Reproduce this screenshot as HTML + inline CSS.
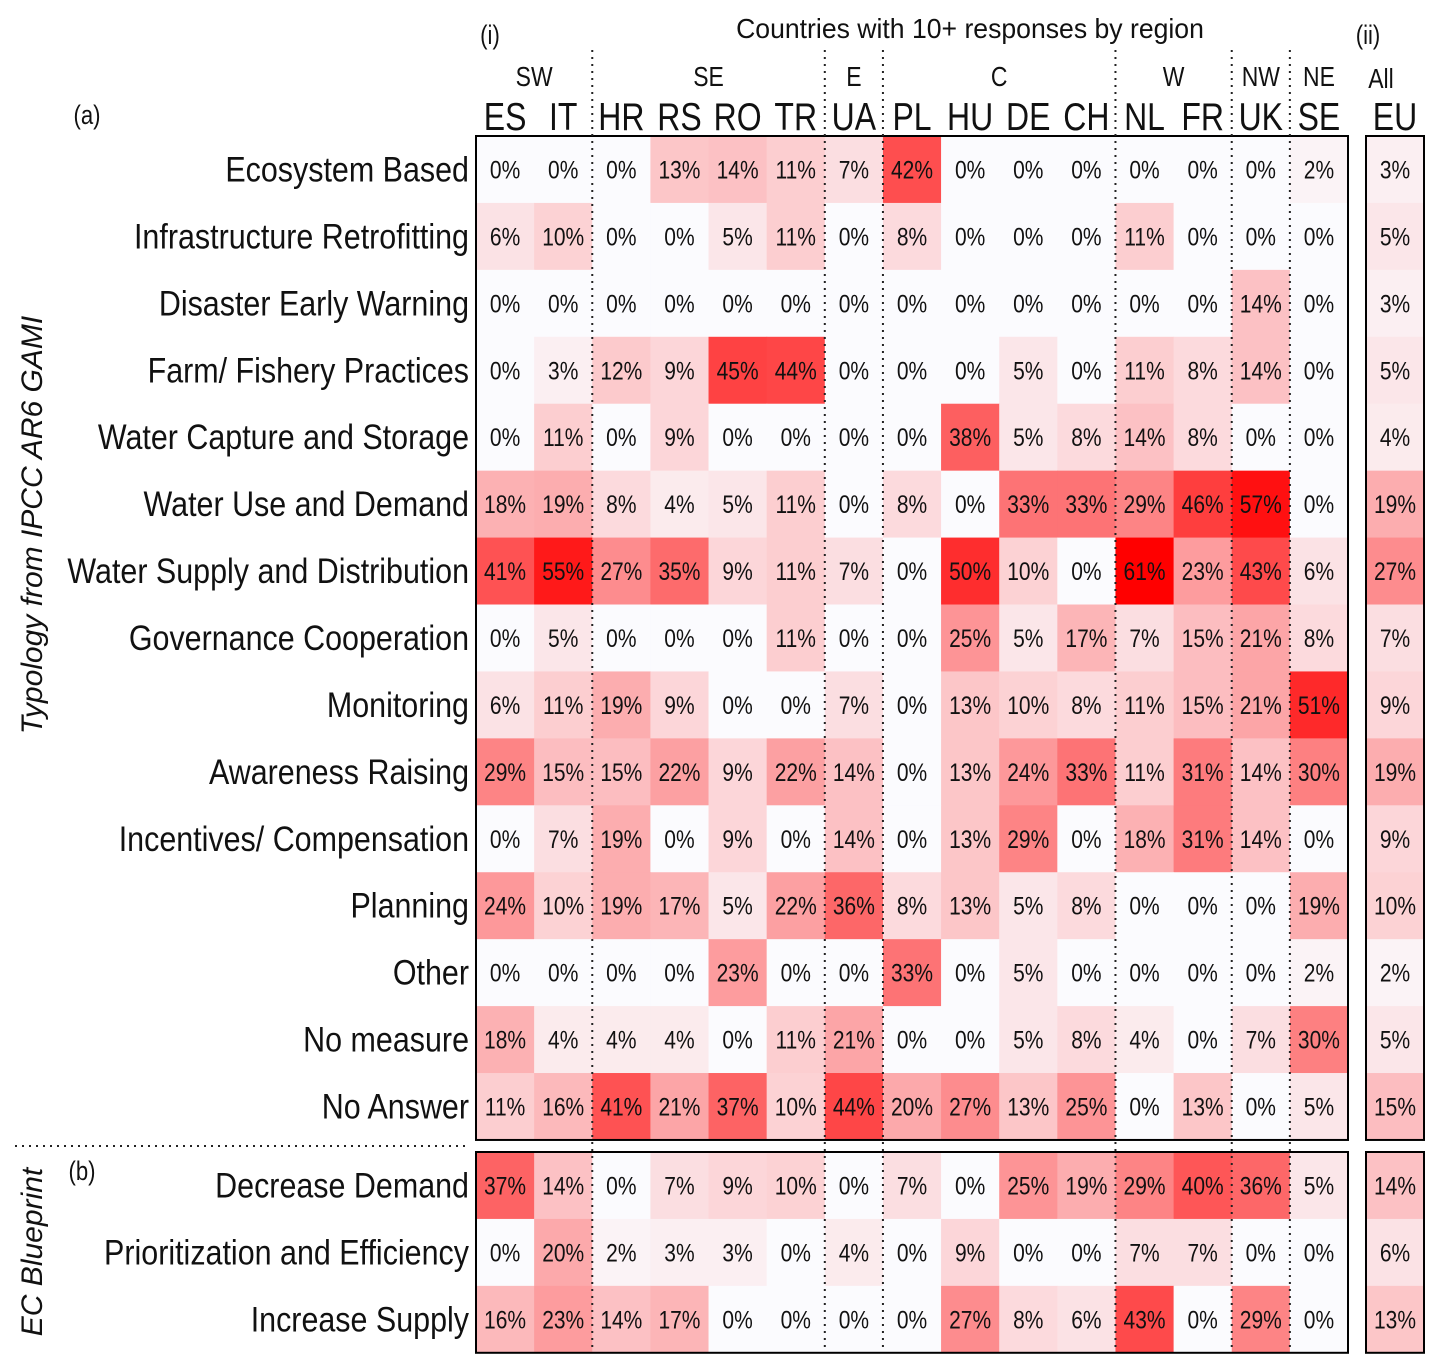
<!DOCTYPE html>
<html><head><meta charset="utf-8"><style>
html,body{margin:0;padding:0;background:#fff;width:1439px;height:1369px;overflow:hidden}
svg text{font-family:"Liberation Sans Narrow","Liberation Sans",sans-serif;fill:#111}
</style></head><body>
<svg id="chart" width="1439" height="1369" viewBox="0 0 1439 1369" xmlns="http://www.w3.org/2000/svg"></svg>
<script>
const countries = ["ES","IT","HR","RS","RO","TR","UA","PL","HU","DE","CH","NL","FR","UK","SE"];
const regions = [["SW",0,1],["SE",2,5],["E",6,6],["C",7,10],["W",11,12],["NW",13,13],["NE",14,14]];
const rowsA = ["Ecosystem Based","Infrastructure Retrofitting","Disaster Early Warning","Farm/ Fishery Practices","Water Capture and Storage","Water Use and Demand","Water Supply and Distribution","Governance Cooperation","Monitoring","Awareness Raising","Incentives/ Compensation","Planning","Other","No measure","No Answer"];
const valuesA = [
[0,0,0,13,14,11,7,42,0,0,0,0,0,0,2],
[6,10,0,0,5,11,0,8,0,0,0,11,0,0,0],
[0,0,0,0,0,0,0,0,0,0,0,0,0,14,0],
[0,3,12,9,45,44,0,0,0,5,0,11,8,14,0],
[0,11,0,9,0,0,0,0,38,5,8,14,8,0,0],
[18,19,8,4,5,11,0,8,0,33,33,29,46,57,0],
[41,55,27,35,9,11,7,0,50,10,0,61,23,43,6],
[0,5,0,0,0,11,0,0,25,5,17,7,15,21,8],
[6,11,19,9,0,0,7,0,13,10,8,11,15,21,51],
[29,15,15,22,9,22,14,0,13,24,33,11,31,14,30],
[0,7,19,0,9,0,14,0,13,29,0,18,31,14,0],
[24,10,19,17,5,22,36,8,13,5,8,0,0,0,19],
[0,0,0,0,23,0,0,33,0,5,0,0,0,0,2],
[18,4,4,4,0,11,21,0,0,5,8,4,0,7,30],
[11,16,41,21,37,10,44,20,27,13,25,0,13,0,5]];
const euA = [3,5,3,5,4,19,27,7,9,19,9,10,2,5,15];
const rowsB = ["Decrease Demand","Prioritization and Efficiency","Increase Supply"];
const valuesB = [
[37,14,0,7,9,10,0,7,0,25,19,29,40,36,5],
[0,20,2,3,3,0,4,0,9,0,0,7,7,0,0],
[16,23,14,17,0,0,0,0,27,8,6,43,0,29,0]];
const euB = [14,6,13];

const svg=document.getElementById('chart');
const NS="http://www.w3.org/2000/svg";
const X0=476,X1=1348,CW=(X1-X0)/15,RH=66.93,YA=136,YB=1152,EX=1366,EW=58;
const colX=i=>X0+CW*i;
const rowY=(base,r)=>base+RH*r;
function color(v){const t=Math.min(v/61,1);return `rgb(${Math.round(251+4*t)},${Math.round(251*(1-t))},${Math.round(254*(1-t))})`;}
function mk(tag,attrs,parent){const e=document.createElementNS(NS,tag);for(const k in attrs)e.setAttribute(k,attrs[k]);(parent||svg).appendChild(e);return e;}
function txt(s,x,y,size,anchor,sx,extra){const t=mk('text',Object.assign({transform:`translate(${x},${y}) scale(${sx},1)`,'font-size':size,'text-anchor':anchor},extra||{}));t.textContent=s;return t;}

function cell(x,y,w,v,name){
  const r=mk('rect',{x:x,y:y,width:w+0.5,height:RH+0.5,fill:color(v)});
  
  
  const t=txt(v+'%',x+w/2,y+RH/2+9,25,'middle',0.84);
  
  
}
function drawPanel(rows,vals,eu,base,panel){
  rows.forEach((lab,r)=>{
    const y=rowY(base,r);
    const l=txt(lab,469,y+RH/2+12,35,'end',0.87);
    
    
    vals[r].forEach((v,c)=>cell(colX(c),y,CW,v,'cell-'+panel+'-'+r+'-'+countries[c]));
    cell(EX,y,EW,eu[r],'cell-eu-'+panel+'-'+r);
  });
  const h=RH*rows.length;
  mk('rect',{x:X0,y:base,width:X1-X0,height:h,fill:'none',stroke:'#000','stroke-width':2,});
  mk('rect',{x:EX,y:base,width:EW,height:h,fill:'none',stroke:'#000','stroke-width':2,});
}
drawPanel(rowsA,valuesA,euA,YA,'a');
drawPanel(rowsB,valuesB,euB,YB,'b');

[2,6,7,11,13,14].forEach(c=>{
  const l=mk('line',{x1:colX(c),x2:colX(c),y1:50,y2:1352,stroke:'#222','stroke-width':2,'stroke-dasharray':'2,5'});
  
  
});
const hl=mk('line',{x1:15,x2:468,y1:1146,y2:1146,stroke:'#222','stroke-width':2,'stroke-dasharray':'2,5'});



countries.forEach((c,i)=>{
  const t=txt(c,colX(i)+CW/2,130,39,'middle',0.82);
  
  
});
regions.forEach(([n,a,b])=>{
  const t=txt(n,(colX(a)+colX(b+1))/2,86,28,'middle',0.82);
  
  
});
let t;
t=txt('EU',EX+EW/2,130,39,'middle',0.82);
t=txt('All',1381,88,28,'middle',0.82);
t=txt('Countries with 10+ responses by region',970,38,28,'middle',0.95);
t=txt('(i)',490,44,27,'middle',0.82);
t=txt('(ii)',1368,44,27,'middle',0.82);
t=txt('(a)',87,124,27,'middle',0.82);
t=txt('(b)',82,1180,27,'middle',0.82);
t=mk('text',{transform:'translate(42,525) rotate(-90) scale(1.0,1)','font-size':30,'text-anchor':'middle','font-style':'italic'});
t.textContent='Typology from IPCC AR6 GAMI';
t=mk('text',{transform:'translate(42,1252) rotate(-90) scale(1.0,1)','font-size':30,'text-anchor':'middle','font-style':'italic'});
t.textContent='EC Blueprint';
</script>
</body></html>
